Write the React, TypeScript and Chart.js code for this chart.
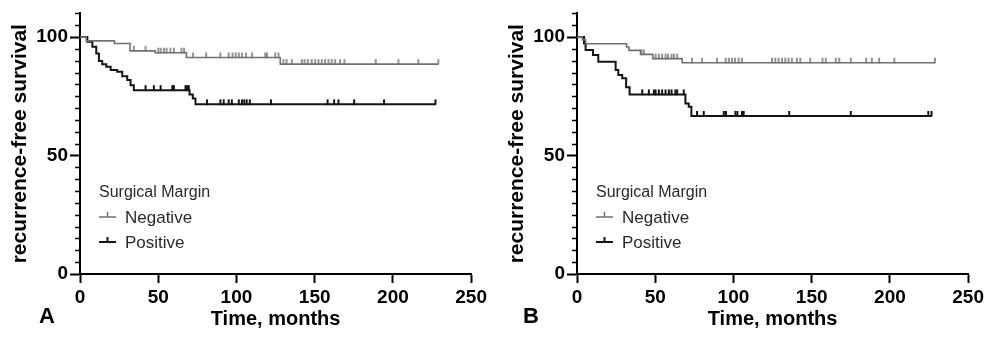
import React, { useEffect, useRef } from 'react';
import { Chart, registerables } from 'chart.js';

Chart.register(...registerables);

const FONT = "'Liberation Sans', Arial, Helvetica, sans-serif";

const X_MIN = 0;
const X_MAX = 250;
const X_STEP = 50;
const Y_MIN = 0;
const Y_MAX = 110;
const Y_STEP = 5;
const Y_LABEL_EVERY = 50;

const X_TITLE = 'Time, months';
const Y_TITLE = 'recurrence-free survival';
const LEGEND_TITLE = 'Surgical Margin';
const SERIES_NAMES = ['Negative', 'Positive'];
const PANEL_LETTERS = ['A', 'B'];

// Panel A
const A_NEG_TIMES = [0, 4, 22, 32, 48, 68, 128];
const A_NEG_SURV = [100, 98.4, 97.3, 94.2, 93.4, 91.4, 88.6];
const A_NEG_CENSORED = [34.4, 41.9, 50, 51.5, 53.6, 55.3, 57.8, 60, 64.8, 66.5, 72.3, 80.6, 89.7, 95, 97.5, 99.5, 101.5, 103.5, 106, 110, 118.4, 119.5, 124.8, 126.9, 130, 132, 135.4, 141.8, 143.5, 145.6, 148.1, 150.3, 152.4, 154.5, 156.6, 158.8, 160.9, 163, 166.2, 169, 189, 203.5, 216.2, 229];

const A_POS_TIMES = [0, 4.7, 7.9, 10.4, 12.1, 14.2, 16.8, 19.6, 23.8, 27, 30.2, 32.3, 34.4, 70, 72.1, 73.8];
const A_POS_SURV = [100, 98, 95.9, 93.1, 89.9, 88.5, 87.5, 86.1, 85.4, 83.5, 81.9, 79.7, 77.6, 75.8, 74.1, 71.6];
const A_POS_CENSORED = [41.9, 47.2, 51.5, 59, 60, 67.4, 68.4, 69.5, 81.2, 89.7, 91.8, 95, 97, 101.5, 103.5, 105, 106.5, 108.5, 122, 158.2, 162.4, 165.2, 175.2, 194.3, 227.2];

// Panel B
const B_NEG_TIMES = [0, 3.4, 5.5, 31.7, 33.2, 40.6, 48.5, 67.2];
const B_NEG_SURV = [100, 98.9, 97.2, 95.8, 94.4, 92.7, 90.9, 89.2];
const B_NEG_CENSORED = [41.2, 42.7, 50.2, 52.3, 54.4, 56.6, 58.2, 60.4, 62, 64, 73.5, 79.9, 89.5, 95, 97, 99, 101, 103.3, 105.4, 124.6, 126.7, 128.8, 131, 133.1, 135.2, 137.3, 140.5, 142.7, 149, 156.9, 159, 165.4, 167.6, 175, 184.8, 188.4, 193.1, 202.8, 228.8];

const B_POS_TIMES = [0, 4.5, 5.5, 10.2, 13.6, 24.7, 26.4, 28.9, 31.4, 33.6, 69.3, 71.4, 73.1];
const B_POS_SURV = [100, 97.3, 94.5, 92.4, 89.6, 86.1, 84, 82.6, 78.8, 75.8, 72, 70.6, 66.7];
const B_POS_CENSORED = [41.7, 45.9, 49.1, 50.2, 52.3, 54.4, 56.6, 58.7, 60.4, 62.9, 64, 68.2, 76.7, 81, 93.8, 95.2, 101.2, 102.5, 105.4, 106.5, 135.6, 175, 224.5, 226.6];

const GRAY = '#717171';
const BLACK = '#141414';
const TEXT = '#2a2a2a';

type Pt = { x: number; y: number };

function survivalAt(times: number[], surv: number[], t: number): number {
  let s = surv[0];
  for (let i = 0; i < times.length; i++) if (times[i] <= t) s = surv[i];
  return s;
}

function curvePoints(times: number[], surv: number[], censored: number[]): Pt[] {
  const pts = times.map((t, i) => ({ x: t, y: surv[i] }));
  const end = Math.max(times[times.length - 1], ...censored);
  pts.push({ x: end, y: surv[surv.length - 1] });
  return pts;
}

function censorPoints(times: number[], surv: number[], censored: number[]): Pt[] {
  return censored.map((t) => ({ x: t, y: survivalAt(times, surv, t) }));
}

function makeMark(color: string, w: number): HTMLCanvasElement {
  const c = document.createElement('canvas');
  c.width = 4;
  c.height = 12;
  const ctx = c.getContext('2d')!;
  ctx.fillStyle = color;
  ctx.fillRect((4 - w) / 2, 1, w, 5.5);
  return c;
}

function overlayPlugin(letter: string, letterX: number) {
  return {
    id: 'overlay',
    afterDraw(chart: any) {
      const ctx = chart.ctx as CanvasRenderingContext2D;
      const yScale = chart.scales.y;
      const area = chart.chartArea;
      ctx.save();
      // minor y ticks
      ctx.strokeStyle = '#000';
      ctx.lineWidth = 1.5;
      yScale.ticks.forEach((tk: any) => {
        if (tk.value % Y_LABEL_EVERY !== 0) {
          const y = Math.round(yScale.getPixelForValue(tk.value)) + 0.5;
          ctx.beginPath();
          ctx.moveTo(area.left - 5, y);
          ctx.lineTo(area.left, y);
          ctx.stroke();
        }
      });
      // legend
      ctx.fillStyle = TEXT;
      ctx.textAlign = 'left';
      ctx.textBaseline = 'alphabetic';
      ctx.font = `16px ${FONT}`;
      ctx.fillText(LEGEND_TITLE, 99, 196.5);
      const colors = [GRAY, BLACK];
      const widths = [1.5, 2];
      const rows = [217, 242];
      ctx.font = `17px ${FONT}`;
      SERIES_NAMES.forEach((name, i) => {
        const y = rows[i];
        const sx = 99;
        ctx.strokeStyle = colors[i];
        ctx.lineWidth = widths[i];
        ctx.beginPath();
        ctx.moveTo(sx, y);
        ctx.lineTo(sx + 17, y);
        ctx.moveTo(sx + 8.5, y - 5);
        ctx.lineTo(sx + 8.5, y);
        ctx.stroke();
        ctx.fillStyle = TEXT;
        ctx.fillText(name, 125, y + 6);
      });
      // panel letter
      ctx.fillStyle = '#000';
      ctx.font = `bold 22px ${FONT}`;
      ctx.fillText(letter, letterX, 323);
      ctx.restore();
    },
  };
}

function buildChart(
  canvas: HTMLCanvasElement,
  neg: { times: number[]; surv: number[]; cens: number[] },
  pos: { times: number[]; surv: number[]; cens: number[] },
  letter: string,
  letterX: number
) {
  const grayMark = makeMark(GRAY, 1.5);
  const blackMark = makeMark(BLACK, 2);
  return new Chart(canvas, {
    type: 'line',
    data: {
      datasets: [
        {
          label: SERIES_NAMES[0],
          data: curvePoints(neg.times, neg.surv, neg.cens),
          borderColor: GRAY,
          borderWidth: 1.6,
          stepped: 'before',
          pointRadius: 0,
          fill: false,
        },
        {
          label: SERIES_NAMES[0] + ' censored',
          data: censorPoints(neg.times, neg.surv, neg.cens),
          showLine: false,
          pointStyle: grayMark,
          pointRadius: 3,
          borderColor: GRAY,
          backgroundColor: GRAY,
        },
        {
          label: SERIES_NAMES[1],
          data: curvePoints(pos.times, pos.surv, pos.cens),
          borderColor: BLACK,
          borderWidth: 2,
          stepped: 'before',
          pointRadius: 0,
          fill: false,
        },
        {
          label: SERIES_NAMES[1] + ' censored',
          data: censorPoints(pos.times, pos.surv, pos.cens),
          showLine: false,
          pointStyle: blackMark,
          pointRadius: 3,
          borderColor: BLACK,
          backgroundColor: BLACK,
        },
      ] as any,
    },
    options: {
      responsive: false,
      animation: false,
      layout: { padding: { left: 0, right: 17, top: 13, bottom: 0 } },
      plugins: { legend: { display: false }, tooltip: { enabled: false } },
      scales: {
        x: {
          type: 'linear',
          min: X_MIN,
          max: X_MAX,
          ticks: {
            stepSize: X_STEP,
            autoSkip: false,
            maxRotation: 0,
            color: '#000',
            padding: 3,
            font: { family: FONT, size: 19, weight: 'bold' },
          },
          grid: { drawOnChartArea: false, tickLength: 9, tickWidth: 2, tickColor: '#000' },
          border: { color: '#000', width: 2 },
          title: {
            display: true,
            text: X_TITLE,
            color: '#000',
            font: { family: FONT, size: 20, weight: 'bold' },
            padding: { top: 0, bottom: 7 },
          },
          afterFit: (s: any) => {
            s.height = 64;
          },
        },
        y: {
          type: 'linear',
          min: Y_MIN,
          max: Y_MAX,
          ticks: {
            stepSize: Y_STEP,
            autoSkip: false,
            color: '#000',
            padding: 2,
            font: { family: FONT, size: 19, weight: 'bold' },
            callback: (v: any) => (Number(v) % Y_LABEL_EVERY === 0 ? String(v) : ''),
          },
          grid: {
            drawOnChartArea: false,
            tickLength: 10,
            tickWidth: 2,
            tickColor: (c: any) => (c.tick && c.tick.value % Y_LABEL_EVERY === 0 ? '#000' : 'rgba(0,0,0,0)'),
          },
          border: { color: '#000', width: 2 },
          title: {
            display: true,
            text: Y_TITLE,
            color: '#000',
            font: { family: FONT, size: 21, weight: 'bold' },
            padding: { top: 8, bottom: 0 },
          },
          afterFit: (s: any) => {
            s.width = 80;
          },
        },
      },
    } as any,
    plugins: [overlayPlugin(letter, letterX)],
  });
}

export default function App() {
  const refA = useRef<HTMLCanvasElement>(null);
  const refB = useRef<HTMLCanvasElement>(null);

  useEffect(() => {
    const a = buildChart(
      refA.current!,
      { times: A_NEG_TIMES, surv: A_NEG_SURV, cens: A_NEG_CENSORED },
      { times: A_POS_TIMES, surv: A_POS_SURV, cens: A_POS_CENSORED },
      PANEL_LETTERS[0],
      39
    );
    const b = buildChart(
      refB.current!,
      { times: B_NEG_TIMES, surv: B_NEG_SURV, cens: B_NEG_CENSORED },
      { times: B_POS_TIMES, surv: B_POS_SURV, cens: B_POS_CENSORED },
      PANEL_LETTERS[1],
      26
    );
    return () => {
      a.destroy();
      b.destroy();
    };
  }, []);

  return (
    <div style={{ position: 'absolute', left: 0, top: 0, width: 987, height: 338, background: '#fff' }}>
      <canvas ref={refA} width={490} height={338} style={{ position: 'absolute', left: 0, top: 0 }} />
      <canvas ref={refB} width={490} height={338} style={{ position: 'absolute', left: 497, top: 0 }} />
    </div>
  );
}
